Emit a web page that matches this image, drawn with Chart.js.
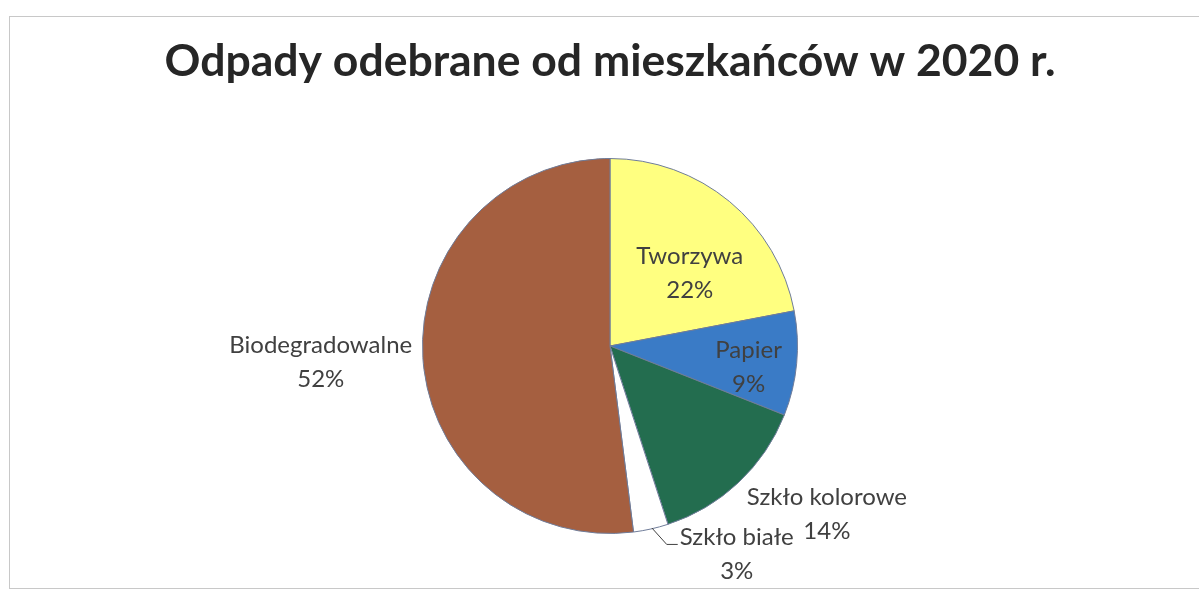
<!DOCTYPE html>
<html>
<head>
<meta charset="utf-8">
<script src="https://cdn.jsdelivr.net/npm/chart.js@4"></script>
<style>
  html, body { margin: 0; padding: 0; background: #fff; overflow: hidden; }
  #frame { position: absolute; left: 9px; top: 16px; width: 1300px; height: 571px; border: 1px solid #c8c8c8; }
  #wrap { position: absolute; left: 0; top: 0; width: 1199px; height: 591px; }
</style>
</head>
<body>
<div id="frame"></div>
<div id="wrap"><canvas id="chart"></canvas></div>
<script>
const categories = ['Tworzywa', 'Papier', 'Szkło kolorowe', 'Szkło białe', 'Biodegradowalne'];
const shares = [22, 9, 14, 3, 52];
const sliceColors = ['#FFFF80', '#3A7BC6', '#236D4F', '#FFFFFF', '#A55F40'];

// where each label sits: distance as fraction of radius, angle shift in degrees
const labelSpots = [
  { r: 0.576, shift: 8.0 },
  { r: 0.748, shift: 3.4 },
  { r: 1.465, shift: -8.95 },
  { r: 1.301, shift: -18.7, leader: true },
  { r: 1.545, shift: 0.4 }
];

const sliceLabels = {
  id: 'sliceLabels',
  afterDatasetsDraw(chart) {
    const ctx = chart.ctx;
    const meta = chart.getDatasetMeta(0);
    const total = shares.reduce((a, b) => a + b, 0);
    ctx.save();
    ctx.font = '24px Lato';
    ctx.fillStyle = '#404040';
    ctx.textBaseline = 'middle';
    ctx.textAlign = 'center';
    meta.data.forEach((arc, i) => {
      const spot = labelSpots[i];
      const p = arc.getProps(['x', 'y', 'startAngle', 'endAngle', 'outerRadius'], true);
      const mid = (p.startAngle + p.endAngle) / 2;
      const a = mid + spot.shift * Math.PI / 180;
      const lx = p.x + Math.cos(a) * p.outerRadius * spot.r;
      const ly = p.y + Math.sin(a) * p.outerRadius * spot.r;
      const pct = Math.round(shares[i] / total * 100) + '%';
      ctx.fillText(categories[i], lx, ly - 17);
      ctx.fillText(pct, lx, ly + 17);
      if (spot.leader) {
        const ex = p.x + Math.cos(mid) * p.outerRadius;
        const ey = p.y + Math.sin(mid) * p.outerRadius;
        const w = ctx.measureText(categories[i]).width;
        const tx = lx - w / 2 - 2;
        ctx.strokeStyle = '#404040';
        ctx.lineWidth = 1;
        ctx.beginPath();
        ctx.moveTo(ex + 1, ey - 1);
        ctx.lineTo(tx - 11, ly - 10);
        ctx.lineTo(tx, ly - 10);
        ctx.stroke();
      }
    });
    ctx.restore();
  }
};

new Chart(document.getElementById('chart'), {
  type: 'pie',
  data: {
    labels: categories,
    datasets: [{
      data: shares,
      backgroundColor: sliceColors,
      borderColor: '#6f7c99',
      borderWidth: 1
    }]
  },
  options: {
    responsive: true,
    maintainAspectRatio: false,
    animation: false,
    layout: { padding: { left: 21, right: 0, top: 0, bottom: 57 } },
    plugins: {
      legend: { display: false },
      tooltip: { enabled: false },
      title: {
        display: true,
        text: 'Odpady odebrane od mieszkańców w 2020 r.',
        color: '#262626',
        font: { family: 'Lato', size: 44.5, weight: 'bold', lineHeight: 1.2 },
        padding: { top: 34.6, bottom: 70 }
      }
    }
  },
  plugins: [sliceLabels]
});
</script>
</body>
</html>
